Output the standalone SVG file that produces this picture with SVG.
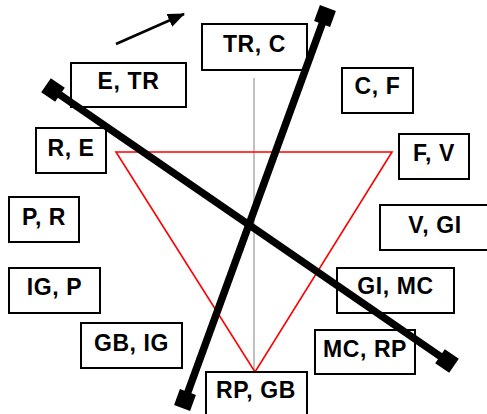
<svg xmlns="http://www.w3.org/2000/svg" width="487" height="414" viewBox="0 0 487 414">
<style>
.box{fill:#fff;stroke:#000;stroke-width:2}
.lbl{font-family:"Liberation Sans",Arial,sans-serif;font-weight:bold;font-size:23px;letter-spacing:0.6px;text-anchor:middle;fill:#000}
.thick{stroke:#000;stroke-width:7.5;fill:none;marker-start:url(#sq);marker-end:url(#sq)}
</style>
<defs>
<marker id="sq" markerUnits="userSpaceOnUse" markerWidth="22" markerHeight="22" refX="11" refY="11" orient="auto" viewBox="0 0 22 22">
<rect x="2.5" y="2.5" width="17" height="17" fill="#000"/>
</marker>
<marker id="ah" markerUnits="userSpaceOnUse" markerWidth="17" markerHeight="14" refX="16" refY="7" orient="auto" viewBox="0 0 17 14">
<path d="M0,0 L17,7 L0,14 Z" fill="#000"/>
</marker>
</defs>
<rect width="487" height="414" fill="#fff"/>
<g id="guide">
<line x1="254" y1="78" x2="254" y2="372" stroke="#c0c0c0" stroke-width="2"/>
<polygon points="116,152 392,152 255,372" fill="none" stroke="#ff0000" stroke-width="1.6"/>
</g>
<g id="n-trc"><rect class="box" x="202" y="24" width="105" height="46"/><text class="lbl" x="254.5" y="52">TR, C</text></g>
<g id="n-etr"><rect class="box" x="71" y="63" width="115" height="44"/><text class="lbl" x="128.5" y="89">E, TR</text></g>
<g id="n-re"><rect class="box" x="36" y="128" width="70" height="45"/><text class="lbl" x="71" y="156">R, E</text></g>
<g id="n-pr"><rect class="box" x="9" y="197" width="70" height="45"/><text class="lbl" x="44" y="225">P, R</text></g>
<g id="n-igp"><rect class="box" x="9" y="268" width="91" height="45"/><text class="lbl" x="54.5" y="295">IG, P</text></g>
<g id="n-gbig"><rect class="box" x="81" y="323" width="101" height="45"/><text class="lbl" x="131.5" y="351">GB, IG</text></g>
<g id="n-rpgb"><rect class="box" x="206" y="372" width="101" height="50"/><text class="lbl" x="256" y="398">RP, GB</text></g>
<g id="n-cf"><rect class="box" x="342" y="68" width="71" height="45"/><text class="lbl" x="377.5" y="94">C, F</text></g>
<g id="n-fv"><rect class="box" x="399" y="134" width="70" height="45"/><text class="lbl" x="434" y="161">F, V</text></g>
<g id="n-vgi"><rect class="box" x="380" y="205" width="112" height="45"/><text class="lbl" x="435" y="233">V, GI</text></g>
<g id="n-gimc"><rect class="box" x="337" y="268" width="117" height="45"/><text class="lbl" x="395.5" y="294">GI, MC</text></g>
<g id="n-mcrp"><rect class="box" x="315" y="330" width="100" height="44"/><text class="lbl" x="365" y="357">MC, RP</text></g>
<g id="connectors">
<line class="thick" x1="185" y1="400" x2="325" y2="16"/>
<line class="thick" x1="53" y1="90" x2="447" y2="361"/>
<line x1="116" y1="44" x2="184" y2="14" stroke="#000" stroke-width="2.5" marker-end="url(#ah)"/>
</g>
</svg>
